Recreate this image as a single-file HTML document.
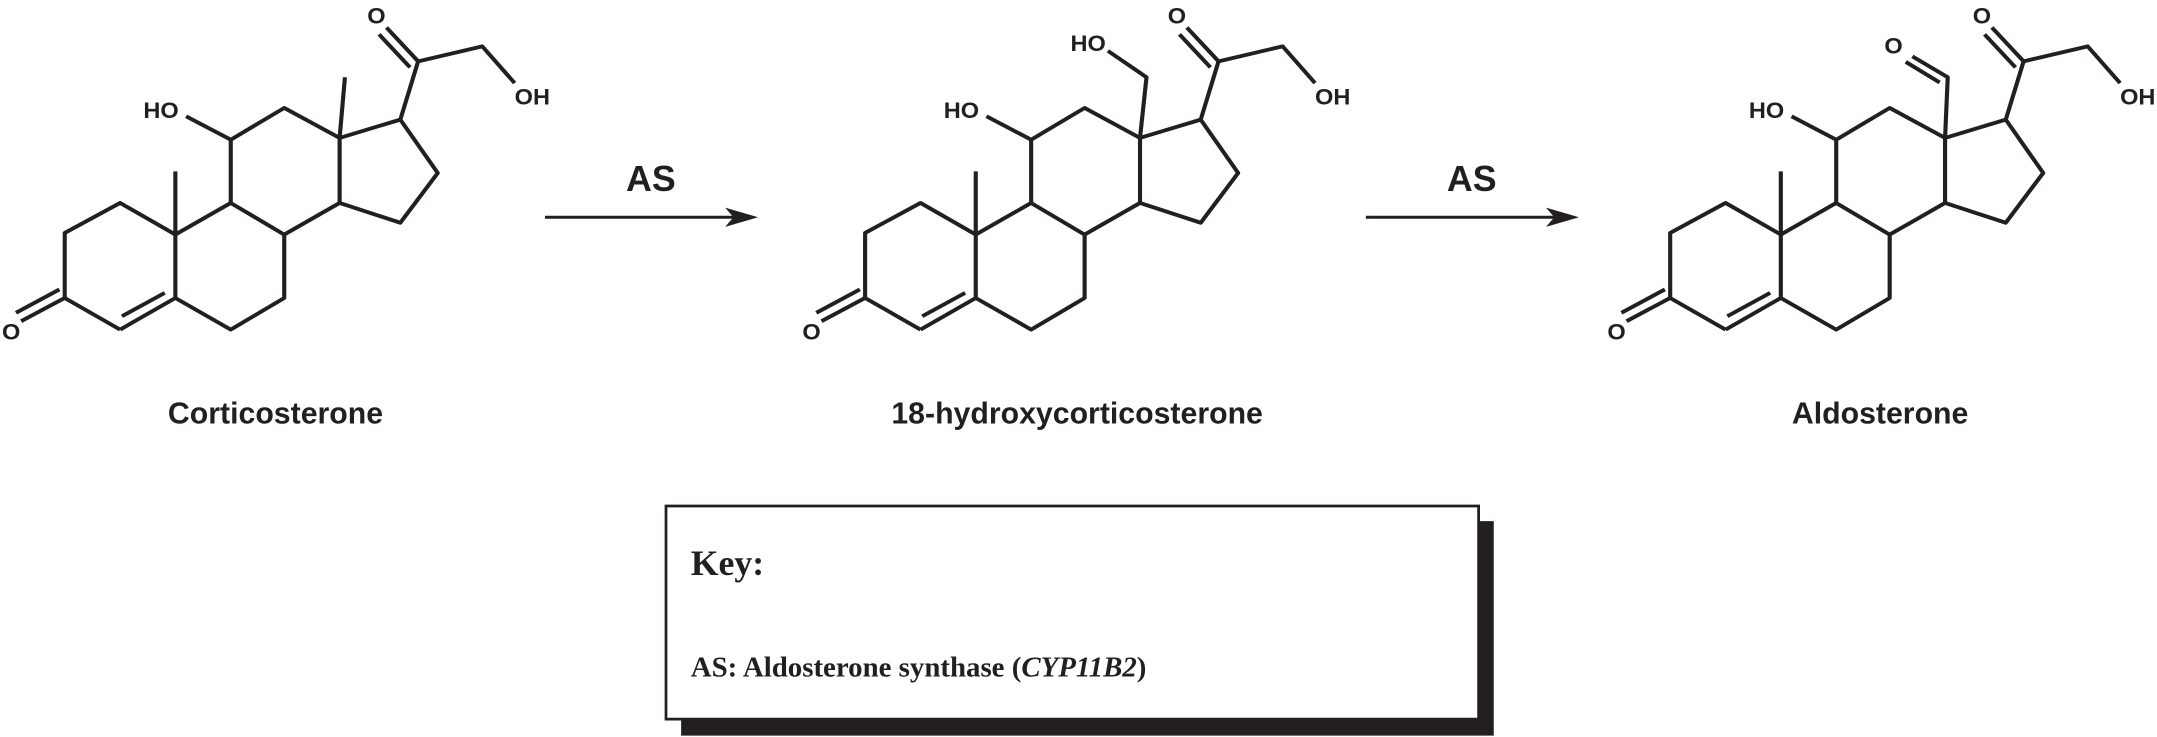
<!DOCTYPE html>
<html><head><meta charset="utf-8"><style>
html,body{margin:0;padding:0;background:#fff;}
svg{display:block;}
.s{font-family:"Liberation Sans",sans-serif;font-weight:bold;fill:#231f20;}
.r{font-family:"Liberation Serif",serif;font-weight:bold;fill:#231f20;}
</style></head><body>
<svg width="2157" height="737" viewBox="0 0 1568 536" xmlns="http://www.w3.org/2000/svg">
<defs>
<g id="core" fill="none" stroke="#231f20" stroke-width="2.8" stroke-linejoin="round">
  <polyline points="81.2,238.7 43.6,215.7 43.6,168.4 81.2,146.6 118.7,169.6 118.7,215.7 81.2,238.7"/>
  <line x1="82.4" y1="229" x2="111.5" y2="212"/>
  <polyline points="118.7,215.7 156.3,238.7 192.6,215.7 192.6,169.6 156.3,146.6 118.7,169.6"/>
  <polyline points="156.3,146.6 156.3,100.6 192.6,77.5 230.2,99.3 230.2,146.6 192.6,169.6"/>
  <polyline points="230.2,99.3 271.4,86 296.8,124.8 271.4,161 230.2,146.6"/>
  <line x1="43.6" y1="215.7" x2="14" y2="232.6"/>
  <line x1="40" y1="209.5" x2="10.5" y2="226.5"/>
  <line x1="118.7" y1="169.6" x2="118.7" y2="123.6"/>
  <line x1="156.3" y1="100.6" x2="126" y2="83.6"/>
  <polyline points="271.4,86 283.5,43.6 327,32.7 349,59.4"/>
  <line x1="283.5" y1="43.6" x2="262" y2="19"/>
  <line x1="278" y1="48" x2="257" y2="24"/>
</g>
</defs>
<g class="s" font-size="16">
  <g transform="translate(0,1) scale(1.0714,1)">
    <use href="#core"/>
    <line x1="230.2" y1="99.3" x2="233.8" y2="55.2" stroke="#231f20" stroke-width="2.8"/>
    <text x="1" y="246">O</text>
    <text x="97" y="85">HO</text>
    <text x="249" y="16">O</text>
    <text x="349" y="75">OH</text>
  </g>

  <g transform="translate(582.1,1) scale(1.0714,1)">
    <use href="#core"/>
    <polyline points="230.2,99.3 234.6,55.2 208.4,36" fill="none" stroke="#231f20" stroke-width="2.8" stroke-linejoin="round"/>
    <text x="1" y="246">O</text>
    <text x="97" y="85">HO</text>
    <text x="249" y="16">O</text>
    <text x="349" y="75">OH</text>
    <text x="183" y="36">HO</text>
  </g>

  <g transform="translate(1167.6,1) scale(1.0714,1)">
    <use href="#core"/>
    <polyline points="230.2,99.3 232,55.2 208,40" fill="none" stroke="#231f20" stroke-width="2.8" stroke-linejoin="round"/>
    <line x1="226.5" y1="59" x2="203.5" y2="44" stroke="#231f20" stroke-width="2.8"/>
    <text x="1" y="246">O</text>
    <text x="97" y="85">HO</text>
    <text x="249" y="16">O</text>
    <text x="349" y="75">OH</text>
    <text x="189" y="38">O</text>
  </g>
</g>
<g stroke="#231f20" stroke-width="2.2">
  <line x1="396" y1="158" x2="535" y2="158"/>
  <line x1="993" y1="158" x2="1132" y2="158"/>
</g>
<polygon points="551,158 527,151 533,158 527,165" fill="#231f20"/>
<polygon points="1148,158 1124,151 1130,158 1124,165" fill="#231f20"/>
<text class="s" x="473" y="139" font-size="26" text-anchor="middle">AS</text>
<text class="s" x="1070" y="139" font-size="26" text-anchor="middle">AS</text>
<text class="s" x="200" y="308" font-size="22" text-anchor="middle">Corticosterone</text>
<text class="s" x="783" y="308" font-size="22" text-anchor="middle">18-hydroxycorticosterone</text>
<text class="s" x="1367" y="308" font-size="22" text-anchor="middle">Aldosterone</text>
<rect x="495" y="379" width="591" height="156" fill="#231f20"/>
<rect x="484" y="368" width="591" height="155" fill="#fff" stroke="#231f20" stroke-width="2"/>
<text class="r" x="502" y="418" font-size="26">Key:</text>
<text class="r" x="502" y="492" font-size="21">AS: Aldosterone synthase (<tspan font-style="italic">CYP11B2</tspan>)</text>
</svg>
</body></html>
